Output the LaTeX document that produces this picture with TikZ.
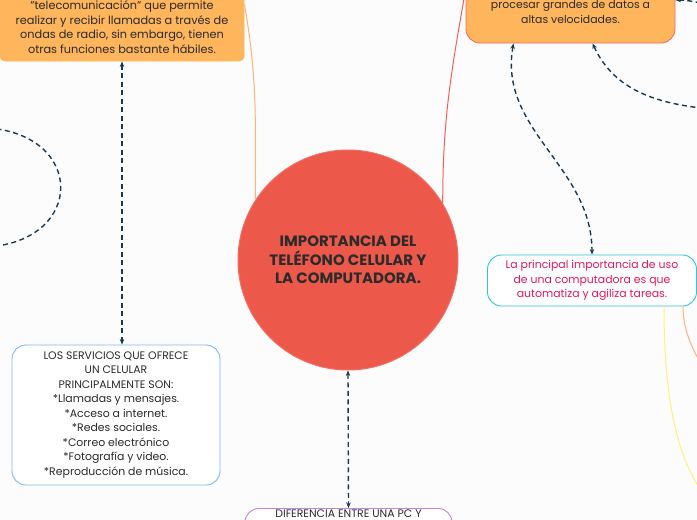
\documentclass[tikz,border=0pt]{standalone}
\usepackage{fontspec}
\setmainfont{Poppins}
\usetikzlibrary{arrows.meta}

\definecolor{boxorange}{HTML}{FFB55B}
\definecolor{hubred}{HTML}{EC5849}
\definecolor{hubrim}{HTML}{F46E62}
\definecolor{navy}{HTML}{1C3A4E}
\definecolor{cyanrim}{HTML}{30C6D4}
\definecolor{pinktext}{HTML}{E8185A}
\definecolor{bluerim}{HTML}{7DB9EE}
\definecolor{purplerim}{HTML}{C883E0}
\definecolor{lineorange}{HTML}{FFB27C}
\definecolor{linered}{HTML}{F0615A}
\definecolor{lineyellow}{HTML}{FFF07C}
\definecolor{darktext}{HTML}{2B2B2B}

\begin{document}
\begin{tikzpicture}[x=1pt, y=-1pt,
        box/.style={draw, rectangle, rounded corners=14pt, line width=0.9pt, align=center, text=darktext,
            font=\fontsize{10.9}{14.5}\selectfont},
        link/.style={dashed, dash pattern=on 5pt off 3.5pt, line width=1.4pt, draw=navy},
        branch/.style={line width=1pt},
        >={Stealth[length=5.5pt,width=4.5pt]}
    ]
\useasboundingbox (0,0) rectangle (697,520);
\clip (0,0) rectangle (697,520);
\fill[white!99!black] (0,0) rectangle (697,520);

\node[box, fill=boxorange, draw=boxorange, rounded corners=5pt, minimum width=244pt, minimum height=68pt,
    font=\fontsize{11.3}{14.6}\selectfont] (cellbox) at (122,27)
    {"telecomunicación" que permite\\realizar y recibir llamadas a través de\\ondas de radio, sin embargo, tienen\\otras funciones bastante hábiles.};
        \node[box, fill=boxorange, draw=hubrim, minimum width=209pt, minimum height=62pt] (pcbox) at (570.5,12)
    {procesar grandes de datos a\\altas velocidades.};

        \node[circle, fill=hubred, draw=hubrim, line width=1pt, minimum size=220pt, align=center, text=darktext,
    font=\bfseries\fontsize{15}{18.5}\selectfont] (hub) at (348,260)
    {IMPORTANCIA DEL\\TELÉFONO CELULAR Y\\LA COMPUTADORA.};

        \node[box, draw=cyanrim, fill=white, text=pinktext, minimum width=209pt, minimum height=51pt] (usebox) at (592,280.5)
    {La principal importancia de uso\\de una computadora es que\\automatiza y agiliza tareas.};

        \node[box, draw=bluerim, fill=white, minimum width=208pt, minimum height=140pt] (servbox) at (116,415)
    {LOS SERVICIOS QUE OFRECE\\UN CELULAR\\PRINCIPALMENTE SON:\\*Llamadas y mensajes.\\*Acceso a internet.\\*Redes sociales.\\*Correo electrónico\\*Fotografía y video.\\*Reproducción de música.};

        \node[box, draw=purplerim, fill=white, anchor=north, minimum width=207pt, inner ysep=1pt, text depth=50pt] (diffbox) at (348.5,508)
    {DIFERENCIA ENTRE UNA PC Y};

\coordinate (eastlow) at (720,110);
        \coordinate (easttop) at (720,5);
        \coordinate (westtop) at (-12,128);
        \coordinate (westlow) at (-12,247);
        \coordinate (yellowend) at (712,505);
        \coordinate (orangeend) at (704,368);

\draw[branch, draw=lineorange] ([yshift=-12pt]cellbox.north east) to[out=-80, in=90] (hub.147);
        \draw[branch, draw=linered] ([yshift=22pt]pcbox.west) to[out=-100, in=90] (hub.31);
        \draw[branch, draw=lineyellow] ([xshift=72pt]usebox.south) .. controls +(0,110) and +(-30,-35) .. (yellowend);
        \draw[branch, draw=lineorange] ([xshift=91pt]usebox.south) .. controls +(0,25) and +(-10,-15) .. (orangeend);

\draw[link, <->] (cellbox.south) -- (cellbox.south |- servbox.north);
        \draw[link, <->] (hub.south) -- (diffbox.north);
        \draw[link, <->] ([xshift=-57pt]pcbox.south) to[out=-100, in=90] (usebox.north);
        \draw[link, <-] ([xshift=22pt]pcbox.south) to[out=-65, in=175] (eastlow);
        \draw[link, <-] ([yshift=12pt]pcbox.east) to[out=0, in=180] (easttop);
        \draw[link] (westtop) .. controls (85,135) and (85,240) .. (westlow);

    \end{tikzpicture}
\end{document}
